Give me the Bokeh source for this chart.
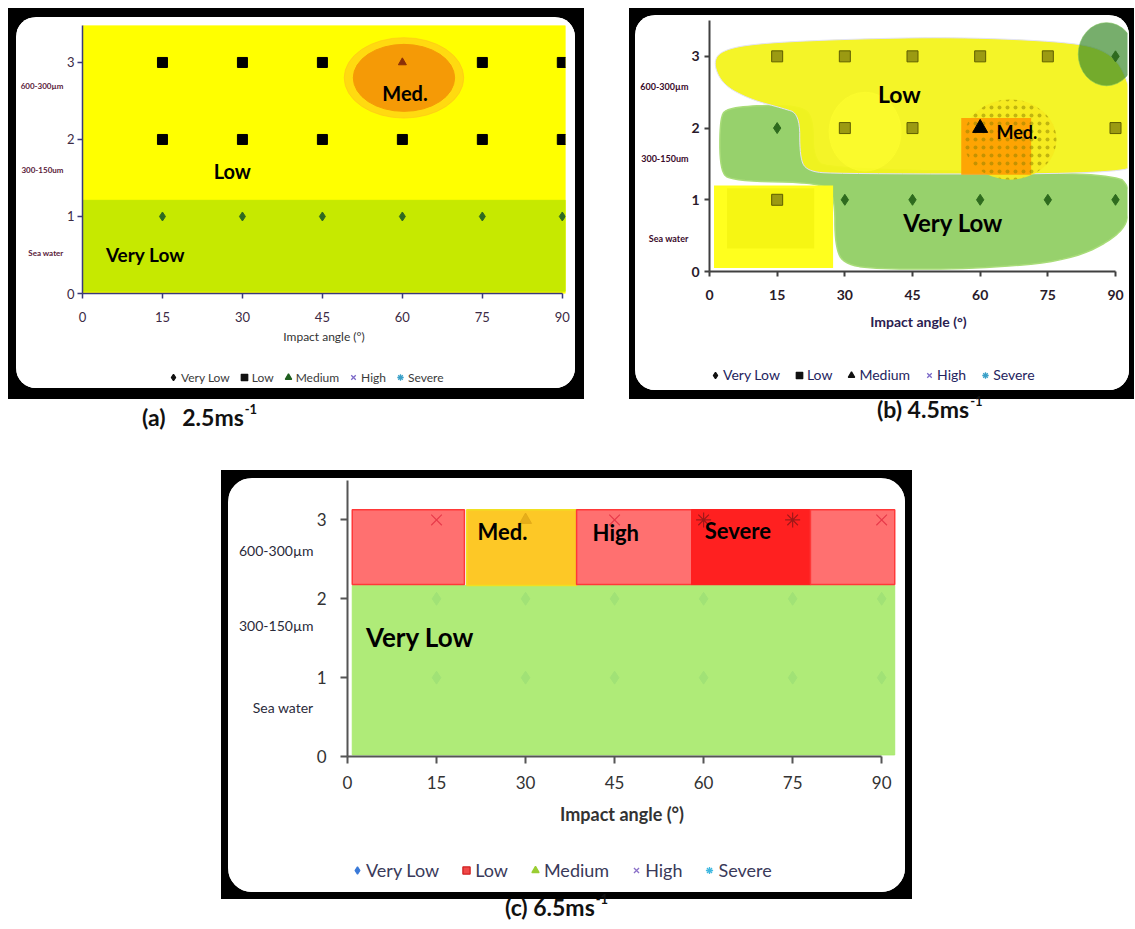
import numpy as np
from bokeh.plotting import figure
from bokeh.models import (Legend, LegendItem, LinearAxis, FixedTicker, Div, Spacer)
from bokeh.layouts import column, row
from bokeh.core.properties import value
from bokeh.embed import file_html
from bokeh.resources import INLINE

# ---------------- data ----------------
angles = [15, 30, 45, 60, 75, 90]
x_ticks = [0, 15, 30, 45, 60, 75, 90]
y_ticks = [0, 1, 2, 3]
levels = ["Very Low", "Low", "Medium", "High", "Severe"]
size_rows = [3, 2, 1]          # 600-300um, 300-150um, sea water

# erosion rating for each size row (key = y) and each impact angle
ratings_a = {3: ["Low", "Low", "Low", "Medium", "Low", "Low"],
             2: ["Low", "Low", "Low", "Low", "Low", "Low"],
             1: ["Very Low", "Very Low", "Very Low", "Very Low", "Very Low", "Very Low"]}
ratings_b = {3: ["Low", "Low", "Low", "Low", "Low", "Very Low"],
             2: ["Very Low", "Low", "Low", "Medium", "", "Low"],
             1: ["Low", "Very Low", "Very Low", "Very Low", "Very Low", "Very Low"]}
ratings_c = {3: ["High", "Medium", "High", "Severe", "Severe", "High"],
             2: ["Very Low", "Very Low", "Very Low", "Very Low", "Very Low", "Very Low"],
             1: ["Very Low", "Very Low", "Very Low", "Very Low", "Very Low", "Very Low"]}

size_labels_a = ["600-300µm", "300-150um", "Sea water"]
size_labels_b = ["600-300µm", "300-150um", "Sea water"]
size_labels_c = ["600-300µm", "300-150µm", "Sea water"]
size_label_y_a = [2.69, 1.61, 0.53]
size_label_y_b = [2.58, 1.57, 0.46]
size_label_y_c = [2.61, 1.66, 0.62]

captions = ["(a)", "2.5", "(b)", "4.5", "(c)", "6.5"]

# region extents (panel a)
a_low_band = dict(left=[0], right=[90.6], bottom=[0.0], top=[3.48])
a_vlow_band = dict(left=[0], right=[90.6], bottom=[0.03], top=[1.21])
a_med_zone = dict(x=[60.3], y=[2.8], w=[19.0], h=[0.87])

# region outlines (panel b)
b_low_x = [0.8, 2.5, 10, 30, 55, 80, 88, 92, 94, 94, 92.5, 28, 21.5, 20, 20, 16, 9, 3]
b_low_y = [2.9, 3.08, 3.18, 3.24, 3.27, 3.2, 3.08, 2.8, 2.3, 1.55, 1.36, 1.36, 1.4, 1.6, 2.2, 2.28, 2.4, 2.6]
b_vlow_x = [2.3, 4, 12, 21, 23, 23, 26, 90, 93.3, 93.5, 91, 80, 60, 40, 30, 27.8, 27.8, 25, 5, 2.3]
b_vlow_y = [2.15, 2.28, 2.32, 2.3, 2.1, 1.6, 1.42, 1.38, 1.15, 0.85, 0.5, 0.15, 0.04, 0.03, 0.08, 0.35, 1.05, 1.24, 1.26, 1.4]
b_low_box = dict(left=[1.0], right=[27.4], bottom=[0.05], top=[1.2])
b_low_box_inner = dict(left=[3.9], right=[23.2], bottom=[0.32], top=[1.16])
b_low_glow = dict(x=[34.5], y=[1.95], w=[16.0], h=[1.1])
b_vlow_spot = dict(x=[88.0], y=[3.03], w=[12.5], h=[0.88])
b_med_zone = dict(x=[66.6], y=[1.84], w=[20.6], h=[1.12])
b_med_core = dict(left=[55.8], right=[71.3], bottom=[1.35], top=[2.14])

# region bands (panel c)
c_vlow_band = dict(left=[0.8], right=[92.2], bottom=[0.02], top=[2.17])
c_top_left = [0.8, 20.1, 38.6, 58.0, 78.0]
c_top_right = [19.7, 38.6, 58.0, 78.0, 92.2]
c_top_bottom = [2.18, 2.17, 2.18, 2.18, 2.18]
c_top_top = [3.13, 3.13, 3.13, 3.13, 3.13]
c_top_level = ["High", "Medium", "High", "Severe", "High"]

# ---------------- helpers ----------------
FONT = "Lato"
MARK = {"Very Low": "diamond", "Low": "square", "Medium": "triangle",
        "High": "x", "Severe": "asterisk"}
BLACK = {"background-color": "black"}


def points(ratings, level):
    xs, ys = [], []
    for yv in size_rows:
        for ang, r in zip(angles, ratings[yv]):
            if r == level:
                xs.append(ang)
                ys.append(yv)
    return xs, ys


def chaikin(xs, ys, iters=3):
    pts = np.column_stack([xs, ys]).astype(float)
    for _ in range(iters):
        nxt = np.roll(pts, -1, axis=0)
        q = 0.75 * pts + 0.25 * nxt
        r = 0.25 * pts + 0.75 * nxt
        out = np.empty((2 * len(q), 2))
        out[0::2] = q
        out[1::2] = r
        pts = out
    return list(pts[:, 0]), list(pts[:, 1])


def make_fig(w, h, xr, yr, mleft, mright, mtop, mbottom):
    p = figure(width=w, height=h, x_range=xr, y_range=yr,
               output_backend="svg", toolbar_location=None,
               min_border_left=mleft, min_border_right=mright,
               min_border_top=mtop, min_border_bottom=mbottom)
    p.frame_align = False
    p.grid.visible = False
    p.outline_line_color = None
    p.background_fill_color = "white"
    p.border_fill_color = "white"
    p.xaxis.ticker = FixedTicker(ticks=x_ticks)
    p.yaxis.ticker = FixedTicker(ticks=y_ticks)
    p.xaxis.bounds = (0, 90)
    p.xaxis.axis_label = "Impact angle (°)"
    return p


def style_axes(p, tsize, tcolor, tstyle, acolor, awidth, lsize, lcolor, lstyle,
               xstand, ystand, lstand, tout):
    for ax in (p.xaxis, p.yaxis):
        ax.major_label_text_font = FONT
        ax.major_label_text_font_size = tsize
        ax.major_label_text_color = tcolor
        ax.major_label_text_font_style = tstyle
        ax.axis_line_color = acolor
        ax.axis_line_width = awidth
        ax.major_tick_line_color = acolor
        ax.major_tick_line_width = awidth
        ax.major_tick_in = 0
        ax.major_tick_out = tout
        ax.minor_tick_line_color = None
    p.xaxis.major_label_standoff = xstand
    p.yaxis.major_label_standoff = ystand
    p.xaxis.axis_label_text_font = FONT
    p.xaxis.axis_label_text_font_size = lsize
    p.xaxis.axis_label_text_color = lcolor
    p.xaxis.axis_label_text_font_style = lstyle
    p.xaxis.axis_label_standoff = lstand


def size_axis(p, labels, ys, fsize, color, style, standoff):
    ax = LinearAxis(ticker=FixedTicker(ticks=ys),
                    major_label_overrides={y: t for y, t in zip(ys, labels)},
                    axis_line_color=None, major_tick_line_color=None,
                    major_tick_in=0, major_tick_out=0,
                    minor_tick_line_color=None,
                    major_label_standoff=standoff,
                    major_label_text_font=FONT, major_label_text_font_size=fsize,
                    major_label_text_color=color, major_label_text_font_style=style)
    p.add_layout(ax, "left")


def legend_fig(w, h, colors, lines, x_off, y_off, fsize, fcolor, gsize, spacing):
    q = figure(width=w, height=h, x_range=(0, 1), y_range=(0, 1),
               x_axis_location=None, y_axis_location=None, min_border=0,
               output_backend="svg", toolbar_location=None)
    q.frame_align = False
    q.grid.visible = False
    q.outline_line_color = None
    q.background_fill_color = "white"
    q.border_fill_color = "white"
    items = []
    for lev in levels:
        # legend key only: a single undefined (NaN) point, nothing is drawn in the frame
        r = q.scatter(x=np.array([np.nan]), y=np.array([np.nan]), marker=MARK[lev], size=8,
                      fill_color=colors[lev], line_color=lines[lev], line_width=1.3)
        items.append(LegendItem(label=lev, renderers=[r]))
    leg = Legend(items=items, orientation="horizontal", location=(x_off, y_off),
                 padding=0, margin=0, spacing=spacing, label_standoff=0,
                 glyph_width=gsize, glyph_height=gsize, label_height=gsize,
                 label_text_font=FONT, label_text_font_size=fsize,
                 label_text_color=fcolor, border_line_color=None,
                 background_fill_alpha=0)
    q.add_layout(leg)
    return q


def region_text(p, x, y, txt, size, align="center"):
    p.text(x=[x], y=[y], text=[txt], text_font=value(FONT), text_font_style="bold",
           text_font_size=size, text_align=align, text_baseline="middle",
           text_color="black")


def framed(p, q, w, h, top, right, bottom, left, radius):
    inner_h = h - top - bottom
    card = column(p, q, styles={"background-color": "white",
                                "border-radius": f"{radius}px", "overflow": "hidden"})
    return column(
        Spacer(width=w, height=top, styles=BLACK),
        row(Spacer(width=left, height=inner_h, styles=BLACK), card,
            Spacer(width=right, height=inner_h, styles=BLACK), styles=BLACK),
        Spacer(width=w, height=bottom, styles=BLACK),
        styles=BLACK)


# ---------------- panel (a) ----------------
pa = make_fig(559, 349, (0, 90.6), (0, 3.48), 66, 10, 8, 73)
style_axes(pa, "13px", "#3c2a44", "normal", "#3a3a7a", 1.5, "12px", "#333333",
           "normal", 13, 3, 4, 5)
pa.quad(color="#ffff00", **a_low_band)
pa.quad(color="#c6e900", **a_vlow_band)
xs, ys = points(ratings_a, "Very Low")
pa.scatter(xs, ys, marker="diamond", size=9, color="#2f6a22")
xs, ys = points(ratings_a, "Low")
pa.scatter(xs, ys, marker="square", size=10, color="#000000")
pa.ellipse(x=a_med_zone["x"], y=a_med_zone["y"],
           width=[a_med_zone["w"][0] * 1.18], height=[a_med_zone["h"][0] * 1.2],
           color="#ffc21a", alpha=0.6)
pa.ellipse(x=a_med_zone["x"], y=a_med_zone["y"], width=a_med_zone["w"],
           height=a_med_zone["h"], color="#f59a06")
xs, ys = points(ratings_a, "Medium")
pa.scatter(xs, ys, marker="triangle", size=8, color="#8a2f08")
region_text(pa, 60.5, 2.6, "Med.", "20px")
region_text(pa, 28.1, 1.59, "Low", "20px")
region_text(pa, 11.8, 0.5, "Very Low", "19px")
size_axis(pa, size_labels_a, size_label_y_a, "8px", "#5a1a3a", "bold", 0)
la = legend_fig(559, 22,
                {"Very Low": "#111111", "Low": "#111111", "Medium": "#1f5f1f",
                 "High": "#7b68c8", "Severe": "#3aa0c8"},
                {"Very Low": "#111111", "Low": "#111111", "Medium": "#1f5f1f",
                 "High": "#7b68c8", "Severe": "#3aa0c8"},
                149, 3, "12px", "#3a3a3a", 16, 6)
panel_a = framed(pa, la, 576, 391, 9, 9, 11, 8, 20)

# ---------------- panel (b) ----------------
pb = make_fig(494, 345, (0, 92.66), (0, 3.5), 74, 2, 5, 89)
style_axes(pb, "14px", "#2a1a2a", "bold", "#404040", 2, "14px", "#2a2050",
           "bold", 13, 5, 10, 5)
vx, vy = chaikin(b_vlow_x, b_vlow_y)
pb.patch(vx, vy, fill_color="#8ccc5c", fill_alpha=0.9, line_color="#a8dc78", line_width=1.5)
pb.quad(fill_color="#ffff1e", line_color=None, **b_low_box)
pb.quad(fill_color="#e6e600", fill_alpha=0.35, line_color=None, **b_low_box_inner)
lx, ly = chaikin(b_low_x, b_low_y)
pb.patch(lx, ly, fill_color="#f3f31c", fill_alpha=0.95, line_color="#e2e2f6", line_width=1)
pb.ellipse(x=b_low_glow["x"], y=b_low_glow["y"], width=b_low_glow["w"],
           height=b_low_glow["h"], color="#ffff30", alpha=0.5)
pb.ellipse(x=b_vlow_spot["x"], y=b_vlow_spot["y"], width=b_vlow_spot["w"],
           height=b_vlow_spot["h"], fill_color="#3d8b2d", fill_alpha=0.7,
           line_color="#7cc05a", line_alpha=0.6)
pb.ellipse(x=b_med_zone["x"], y=b_med_zone["y"], width=b_med_zone["w"],
           height=b_med_zone["h"], fill_color="#f6ea20", fill_alpha=0.95, line_color=None)
pb.quad(fill_color="#ff9c00", fill_alpha=0.9, line_color=None, **b_med_core)
pb.ellipse(x=b_med_zone["x"], y=b_med_zone["y"], width=b_med_zone["w"],
           height=b_med_zone["h"], fill_alpha=0, line_color=None,
           hatch_pattern="dot", hatch_color="#8a8000", hatch_alpha=0.5,
           hatch_scale=8, hatch_weight=0.6)
xs, ys = points(ratings_b, "Low")
pb.scatter(xs, ys, marker="square", size=11, fill_color="#9b9a12", line_color="#5e5d00")
xs, ys = points(ratings_b, "Very Low")
pb.scatter(xs, ys, marker="diamond", size=11, color="#2e6b1e")
xs, ys = points(ratings_b, "Medium")
pb.scatter(xs, ys, marker="triangle", size=15, color="#000000")
region_text(pb, 42.1, 2.48, "Low", "23px")
region_text(pb, 63.6, 1.94, "Med.", "18px", align="left")
region_text(pb, 54.0, 0.68, "Very Low", "24px")
size_axis(pb, size_labels_b, size_label_y_b, "9px", "#3a0a2a", "bold", 0)
lb = legend_fig(494, 30,
                {"Very Low": "#111111", "Low": "#111111", "Medium": "#111111",
                 "High": "#7b68c8", "Severe": "#3aa0c8"},
                {"Very Low": "#111111", "Low": "#111111", "Medium": "#111111",
                 "High": "#7b68c8", "Severe": "#3aa0c8"},
                72, 7, "14px", "#24245e", 16, 11)
panel_b = framed(pb, lb, 505, 391, 7, 5, 9, 6, 20)

# ---------------- panel (c) ----------------
pc = make_fig(677, 374, (0, 92.5), (0, 3.5), 119, 9, 2, 96)
style_axes(pc, "17px", "#333333", "normal", "#555555", 2, "18px", "#333333",
           "bold", 12, 14, 11, 7)
xs, ys = points(ratings_c, "Very Low")
pc.scatter(xs, ys, marker="diamond", size=13, color="#3a7ad8")
pc.quad(color="#a9e96e", alpha=0.93, **c_vlow_band)
top_fill = {"High": "#ff7070", "Medium": "#fdc826", "Severe": "#ff2020"}
top_line = {"High": "#ff3838", "Medium": "#f0e020", "Severe": "#ff2020"}
for l_, r_, b_, t_, lev in zip(c_top_left, c_top_right, c_top_bottom, c_top_top, c_top_level):
    pc.quad(left=[l_], right=[r_], bottom=[b_], top=[t_],
            fill_color=top_fill[lev], line_color=top_line[lev], line_width=1.5)
xs, ys = points(ratings_c, "High")
pc.scatter(xs, ys, marker="x", size=15, line_color="#e83a4a", line_width=1.2)
xs, ys = points(ratings_c, "Severe")
pc.scatter(xs, ys, marker="asterisk", size=15, line_color="#a01818", line_width=1.2)
xs, ys = points(ratings_c, "Medium")
pc.scatter(xs, ys, marker="triangle", size=12, color="#e0a818", alpha=0.8)
region_text(pc, 21.9, 2.85, "Med.", "22px", align="left")
region_text(pc, 41.3, 2.84, "High", "22px", align="left")
region_text(pc, 60.2, 2.86, "Severe", "22px", align="left")
region_text(pc, 3.1, 1.51, "Very Low", "26px", align="left")
size_axis(pc, size_labels_c, size_label_y_c, "14px", "#2a2a3a", "normal", 0)
lc = legend_fig(677, 40,
                {"Very Low": "#3a7ad8", "Low": "#f04848", "Medium": "#9acd32",
                 "High": "#8a70c8", "Severe": "#40b8e0"},
                {"Very Low": "#3a7ad8", "Low": "#d02020", "Medium": "#9acd32",
                 "High": "#8a70c8", "Severe": "#40b8e0"},
                120, 11, "18px", "#3a3a5a", 18, 18)
panel_c = framed(pc, lc, 691, 429, 8, 7, 7, 7, 24)

# ---------------- captions & layout ----------------
SUP = '<span style="font-size:13px;position:relative;top:-12px;margin-left:1px">-1</span>'


def cap_span(label, speed, left, top, gap):
    return (f'<span style="position:absolute;left:{left}px;top:{top}px;white-space:nowrap">'
            f'{label}{gap}{speed}ms{SUP}</span>')


cap_css = {"font-family": "Lato", "font-weight": "bold", "font-size": "23px",
           "line-height": "23px", "color": "#111111"}
cap_row1 = Div(width=1127, height=71, margin=(0, 0, 0, 0), styles=cap_css,
               text='<div style="position:relative;width:1127px;height:71px">'
                    + cap_span(captions[0], captions[1], 134, 7, "&nbsp;&nbsp;&nbsp;")
                    + cap_span(captions[2], captions[3], 869, -1, "&nbsp;")
                    + '</div>')
cap_row2 = Div(width=1127, height=30, margin=(0, 0, 0, 0), styles=cap_css,
               text='<div style="position:relative;width:1127px;height:30px">'
                    + cap_span(captions[4], captions[5], 497, -3, "&nbsp;")
                    + '</div>')

layout = row(
    Spacer(width=8, height=929),
    column(
        Spacer(width=1127, height=8),
        row(panel_a, Spacer(width=45, height=391), panel_b),
        cap_row1,
        row(Spacer(width=213, height=429), panel_c),
        cap_row2,
    ),
)

open("out.html", "w").write(file_html(layout, INLINE))
